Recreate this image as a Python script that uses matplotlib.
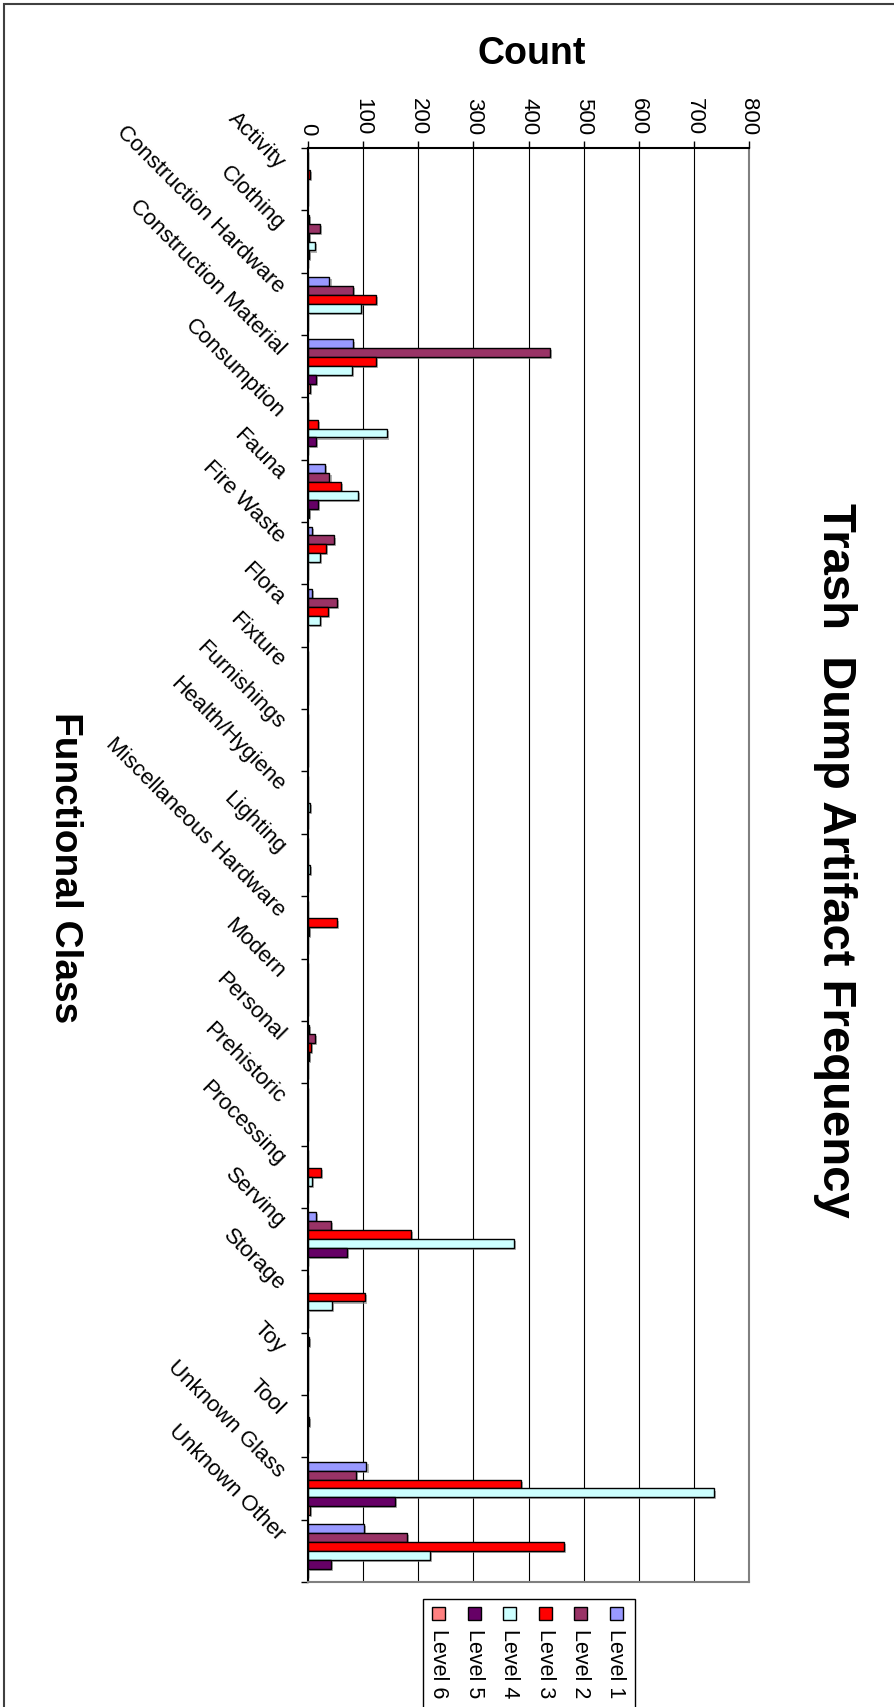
import numpy as np
import matplotlib
matplotlib.use("Agg")
import matplotlib.pyplot as plt
import matplotlib.patheffects as pe
from matplotlib.patches import Rectangle
from matplotlib.transforms import ScaledTranslation

plt.rcParams['font.family'] = ['Liberation Sans', 'DejaVu Sans']

categories = ['Activity', 'Clothing', 'Construction Hardware', 'Construction Material',
              'Consumption', 'Fauna', 'Fire Waste', 'Flora', 'Fixture', 'Furnishings',
              'Health/Hygiene', 'Lighting', 'Miscellaneous Hardware', 'Modern', 'Personal',
              'Prehistoric', 'Processing', 'Serving', 'Storage', 'Toy', 'Tool',
              'Unknown Glass', 'Unknown Other']

level1 = [0, 2, 39, 82, 0, 30, 7, 7, 0, 0, 0, 0, 0, 0, 2, 0, 0, 15, 0, 2, 0, 106, 102]
level2 = [0, 22, 82, 439, 0, 39, 47, 53, 0, 0, 0, 0, 0, 0, 12, 0, 0, 42, 0, 0, 0, 87, 180]
level3 = [3, 2, 123, 123, 18, 59, 33, 36, 0, 0, 0, 0, 53, 0, 6, 0, 24, 186, 103, 0, 2, 386, 464]
level4 = [0, 13, 96, 79, 143, 90, 21, 21, 0, 0, 3, 3, 2, 0, 2, 0, 8, 374, 44, 0, 0, 737, 221]
level5 = [0, 2, 0, 15, 15, 18, 0, 0, 0, 0, 0, 0, 0, 0, 0, 0, 0, 71, 0, 0, 0, 158, 41]
level6 = [0, 0, 0, 3, 0, 2, 0, 0, 0, 0, 0, 0, 0, 0, 0, 0, 0, 0, 0, 0, 0, 3, 0]

levels = [level1, level2, level3, level4, level5, level6]
level_names = ['Level 1', 'Level 2', 'Level 3', 'Level 4', 'Level 5', 'Level 6']
colors = ['#9999FF', '#993366', '#FF0000', '#CCFFFF', '#660066', '#FF8080']

W, H = 895, 1707
fig = plt.figure(figsize=(W / 100, H / 100), dpi=100)
fig.patch.set_facecolor('white')

def fx(px):
    return px / W

def fy(py):
    return 1 - py / H

# plot area (pixel box of the reference)
left, right, top, bottom = 308, 749, 148, 1582
ax = fig.add_axes([fx(left), fy(bottom), fx(right - left), (bottom - top) / H])

n = len(categories)
y = np.arange(n)
bh = 1 / 7
shadow = [pe.SimplePatchShadow(offset=(1.5, -1.5), shadow_rgbFace='#808080', alpha=0.6), pe.Normal()]
for j, vals in enumerate(levels):
    bars = ax.barh(y + (j - 2.5) * bh, vals, height=bh, color=colors[j],
                   edgecolor='black', linewidth=1.0, label=level_names[j])
    for b in bars:
        b.set_path_effects(shadow)

ax.set_xlim(0, 800)
ax.set_ylim(n - 0.5, -0.5)

# value axis on top, labels reading downward
ax.xaxis.tick_top()
ax.set_xticks(np.arange(0, 801, 100))
ax.tick_params(axis='x', direction='out', length=5, width=1, pad=4, labelsize=16,
               labelrotation=-90)
for t in ax.get_xticklabels():
    t.set_va('bottom')
ax.xaxis.grid(True, color='black', linewidth=0.8)
ax.set_axisbelow(True)

# category axis: ticks at boundaries, labels at centres
ax.set_yticks(np.arange(n + 1) - 0.5)
ax.set_yticklabels([])
ax.set_yticks(y, minor=True)
ax.set_yticklabels(categories, minor=True)
ax.tick_params(axis='y', which='major', direction='out', length=5, width=1)
ax.tick_params(axis='y', which='minor', length=0, pad=22, labelsize=16)
off = ScaledTranslation(0, 10 / 100, fig.dpi_scale_trans)
for t in ax.get_yticklabels(minor=True):
    t.set_rotation(-45)
    t.set_rotation_mode('anchor')
    t.set_ha('right')
    t.set_va('baseline')
    t.set_transform(t.get_transform() + off)

ax.spines['top'].set_linewidth(1.5)
ax.spines['left'].set_linewidth(1.5)
ax.spines['right'].set_color('#808080')
ax.spines['bottom'].set_color('#808080')
ax.spines['right'].set_linewidth(1.5)
ax.spines['bottom'].set_linewidth(1.5)

# titles
fig.text(fx(835), fy(860), 'Trash  Dump Artifact Frequency', rotation=-90,
         fontsize=34, fontweight='bold', ha='center', va='center')
fig.text(fx(532), fy(54), 'Count', fontsize=27, fontweight='bold', ha='center', va='center')
fig.text(fx(65), fy(868), 'Functional Class', rotation=-90,
         fontsize=28, fontweight='bold', ha='center', va='center')

# legend, drawn turned like the rest of the chart
fig.add_artist(Rectangle((fx(423), fy(1712)), fx(635 - 423), (1712 - 1599) / H,
                         transform=fig.transFigure, facecolor='white',
                         edgecolor='black', linewidth=1))
for j, name in enumerate(level_names):
    cx = 616 - j * 35.4
    fig.add_artist(Rectangle((fx(cx - 6.5), fy(1620)), fx(13), 13 / H,
                             transform=fig.transFigure, facecolor=colors[j],
                             edgecolor='black', linewidth=1))
    fig.text(fx(cx), fy(1629), name, rotation=-90, fontsize=15.5,
             ha='center', va='top')

# outer frame (only top and left show in the reference)
fig.add_artist(Rectangle((fx(4), fy(H + 10)), fx(W + 10), (H + 6) / H,
                         transform=fig.transFigure, fill=False,
                         edgecolor='#404040', linewidth=1.5))

fig.savefig('out.png', dpi=100)
